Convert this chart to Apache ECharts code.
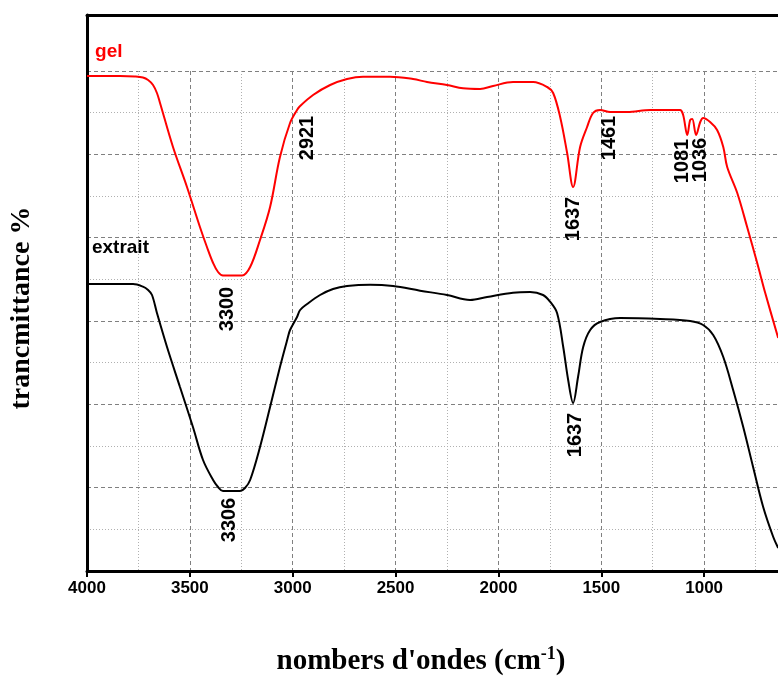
<!DOCTYPE html>
<html>
<head>
<meta charset="utf-8">
<script src="https://cdn.jsdelivr.net/npm/echarts@6/dist/echarts.min.js"></script>
<style>html,body{margin:0;padding:0;background:#fff;}#c{width:778px;height:680px;}</style>
</head>
<body>
<div id="c"></div>
<script>
// Wavenumbers (cm-1) and transmittance (arbitrary %, offset curves)
const wnGel = [4000,3937,3840,3767,3728,3703,3679,3660,3645,3582,3514,3451,3417,3387,3363,3339,3246,3207,3159,3110,3062,3013,2979,2964,2901,2818,2736,2658,2527,2415,2347,2250,2172,2089,2026,1929,1831,1763,1734,1700,1666,1637,1603,1569,1540,1506,1457,1374,1262,1117,1102,1082,1068,1058,1039,1019,1005,971,937,907,888,839,791,742,703,640];
const tGel = [59.4,59.4,59.4,59.34,59.22,58.92,58.32,57.36,56.16,50.88,46.08,41.28,38.88,36.96,35.88,35.46,35.46,36.48,39.72,43.68,49.68,53.76,55.32,55.8,57.12,58.32,59.04,59.32,59.32,59.04,58.68,58.32,57.92,57.84,58.2,58.68,58.68,58.08,57.36,54.48,50.16,46.08,50.88,53.28,54.96,55.32,55.08,55.08,55.32,55.32,54.72,52.32,54.12,54.24,52.32,53.88,54.36,53.88,52.92,50.88,48.48,45.36,41.28,36.96,33.36,27.96];
const wnExt = [4000,3840,3776,3728,3703,3684,3660,3611,3548,3485,3436,3387,3363,3339,3256,3232,3207,3159,3110,3062,3027,3013,2979,2964,2930,2867,2804,2736,2624,2512,2381,2250,2138,2055,1929,1846,1783,1749,1715,1685,1661,1637,1613,1588,1554,1506,1408,1214,1068,1005,956,907,859,810,762,713,664,640];
const tExt = [34.44,34.44,34.44,34.12,33.72,33.12,30.96,26.88,22.08,17.28,13.32,10.92,10.08,9.6,9.6,9.96,10.92,14.88,19.68,24.48,27.72,28.92,30.48,31.32,32.04,33.12,33.84,34.2,34.36,34.2,33.64,33.12,32.52,32.88,33.4,33.48,33.12,32.32,30.96,26.88,22.92,20.16,23.28,26.88,28.92,29.88,30.36,30.24,30.0,29.52,28.32,25.68,21.72,17.28,12.48,7.68,4.08,2.76];

// Peak annotations
const peakText = ['2921','3300','3306','1637','1461','1081','1036','1637'];
const peakWn   = [2930, 3319, 3305, 1637, 1462, 1107, 1019, 1627];
const peakT    = [51.96, 31.44, 6.12, 42.24, 51.96, 49.2, 49.32, 16.32];

// Series names
const seriesNames = ['gel', 'extrait'];
const seriesNameWn = [3961, 3976];
const seriesNameT = [62.3, 38.8];

const xTicks = [4000,3500,3000,2500,2000,1500,1000];

const chart = echarts.init(document.getElementById('c'), null, {renderer: 'canvas'});

const gridLeft = 87, gridWidth = 720, gridBottom = 109;
const X_MIN = 500, X_MAX = 4000, Y_MAX = 66.72;

const option = {
  animation: false,
  backgroundColor: '#ffffff',
  grid: [
    {left: gridLeft, width: gridWidth, top: 15, bottom: gridBottom, outerBoundsMode: 'none', containLabel: false},
    {left: gridLeft, width: gridWidth, top: 71, bottom: gridBottom, outerBoundsMode: 'none', containLabel: false}
  ],
  xAxis: [
    {
      gridIndex: 0, type: 'value', inverse: true, min: X_MIN, max: X_MAX, interval: 500,
      position: 'bottom',
      axisLine: {show: true, lineStyle: {color: '#000', width: 3}},
      axisTick: {show: true, inside: false, length: 6, lineStyle: {color: '#000', width: 2}, customValues: xTicks},
      axisLabel: {show: true, customValues: xTicks, formatter: v => String(v), color: '#000', fontFamily: 'Liberation Sans', fontWeight: 'bold', fontSize: 17, margin: 9},
      splitLine: {show: false}
    },
    {
      gridIndex: 0, type: 'value', inverse: true, min: X_MIN, max: X_MAX, position: 'top',
      axisLine: {show: true, onZero: false, lineStyle: {color: '#000', width: 3}},
      axisTick: {show: false}, axisLabel: {show: false}, splitLine: {show: false}
    },
    {
      gridIndex: 1, type: 'value', inverse: true, min: X_MIN, max: X_MAX, interval: 500,
      axisLine: {show: false}, axisTick: {show: false}, axisLabel: {show: false},
      splitLine: {show: true, lineStyle: {color: '#808080', width: 1, type: [4, 3]}},
      minorTick: {show: false, splitNumber: 2},
      minorSplitLine: {show: true, lineStyle: {color: '#b0b0b0', width: 1, type: [1, 2]}}
    }
  ],
  yAxis: [
    {
      gridIndex: 0, type: 'value', min: 0, max: Y_MAX,
      axisLine: {show: true, onZero: false, lineStyle: {color: '#000', width: 3}},
      axisTick: {show: false}, axisLabel: {show: false}, splitLine: {show: false}
    },
    {
      gridIndex: 1, type: 'value', min: 0, max: 60, interval: 10,
      axisLine: {show: false}, axisTick: {show: false}, axisLabel: {show: false},
      splitLine: {show: true, lineStyle: {color: '#808080', width: 1, type: [4, 3]}},
      minorTick: {show: false, splitNumber: 2},
      minorSplitLine: {show: true, lineStyle: {color: '#b0b0b0', width: 1, type: [1, 2]}}
    }
  ],
  series: [
    {
      name: 'gel', type: 'line', xAxisIndex: 0, yAxisIndex: 0,
      data: wnGel.map((w, i) => [w, tGel[i]]),
      showSymbol: false, smooth: 0.35,
      lineStyle: {color: '#ff0000', width: 2}, z: 5
    },
    {
      name: 'extrait', type: 'line', xAxisIndex: 0, yAxisIndex: 0,
      data: wnExt.map((w, i) => [w, tExt[i]]),
      showSymbol: false, smooth: 0.35,
      lineStyle: {color: '#000000', width: 2}, z: 5
    },
    {
      name: 'peaks', type: 'scatter', xAxisIndex: 0, yAxisIndex: 0, silent: true,
      symbolSize: 0, itemStyle: {opacity: 1},
      data: peakWn.map((w, i) => [w, peakT[i], peakText[i]]),
      label: {
        show: true, position: 'inside', rotate: 90, opacity: 1,
        formatter: p => p.data[2],
        color: '#000000', fontFamily: 'Liberation Sans', fontWeight: 'bold', fontSize: 20
      }, z: 6
    },
    {
      name: 'names', type: 'scatter', xAxisIndex: 0, yAxisIndex: 0, silent: true,
      symbolSize: 0, itemStyle: {opacity: 1},
      data: seriesNameWn.map((w, i) => ({value: [w, seriesNameT[i]], name: seriesNames[i],
        label: {color: i === 0 ? '#ff0000' : '#000000'}})),
      label: {
        show: true, position: 'inside', align: 'left', verticalAlign: 'middle', opacity: 1,
        formatter: p => p.name,
        fontFamily: 'Liberation Sans', fontWeight: 'bold', fontSize: 19
      }, z: 6
    }
  ],
  graphic: [
    {
      type: 'text', x: 22, y: 308, rotation: Math.PI / 2,
      style: {
        text: 'trancmittance %', fill: '#000',
        font: 'bold 28px "Liberation Serif"',
        textAlign: 'center', textVerticalAlign: 'middle'
      }
    },
    {
      type: 'text', x: 421, y: 662,
      style: {
        text: '{a|nombers d\'ondes (cm}{s|-1}{a|)}',
        textAlign: 'center', textVerticalAlign: 'middle',
        rich: {
          a: {fontFamily: 'Liberation Serif', fontWeight: 'bold', fontSize: 29, fill: '#000', lineHeight: 34},
          s: {fontFamily: 'Liberation Serif', fontWeight: 'bold', fontSize: 18, fill: '#000', verticalAlign: 'top', lineHeight: 34, padding: [0, 0, 18, 0]}
        }
      }
    }
  ]
};
chart.setOption(option);
</script>
</body>
</html>
